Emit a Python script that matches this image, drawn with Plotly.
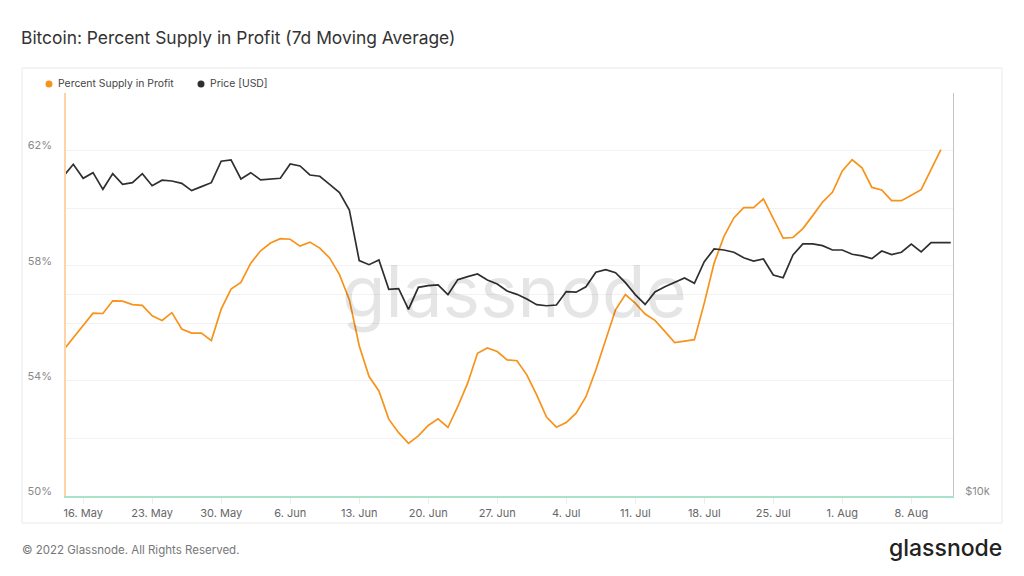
import pandas as pd
import plotly.graph_objects as go

# ---- data ----
dates = pd.date_range("2022-05-14", "2022-08-12", freq="D")

supply_in_profit = [
    55.07, 55.49, 55.89, 56.35, 56.34, 56.78, 56.77, 56.65, 56.62, 56.26,
    56.10, 56.37, 55.80, 55.66, 55.66, 55.40, 56.49, 57.19, 57.42, 58.09,
    58.52, 58.79, 58.94, 58.92, 58.68, 58.82, 58.61, 58.27, 57.69, 56.82,
    55.22, 54.15, 53.65, 52.67, 52.20, 51.83, 52.09, 52.45, 52.68, 52.38,
    53.11, 53.92, 54.96, 55.14, 55.02, 54.73, 54.70, 54.21, 53.51, 52.74,
    52.39, 52.55, 52.88, 53.45, 54.38, 55.43, 56.47, 57.00, 56.70, 56.32,
    56.10, 55.72, 55.33, 55.38, 55.43, 56.70, 58.09, 59.02, 59.66, 60.02,
    60.02, 60.32, 59.63, 58.96, 58.98, 59.29, 59.74, 60.21, 60.55, 61.29,
    61.68, 61.40, 60.72, 60.63, 60.26, 60.26, 60.45, 60.64, 61.34, 62.03,
]

price_usd = [
    30040, 31300, 29830, 30410, 28720, 30310, 29220, 29380, 30310, 29080,
    29630, 29550, 29320, 28590, 28990, 29380, 31630, 31770, 29760, 30410,
    29660, 29760, 29830, 31330, 31120, 30170, 30040, 29220, 28390, 26750,
    22480, 22160, 22520, 20360, 20400, 19000, 20500, 20620, 20670, 19990,
    21050, 21270, 21460, 21020, 20740, 20240, 20010, 19690, 19310, 19240,
    19290, 20200, 20160, 20540, 21590, 21780, 21560, 20830, 19990, 19330,
    20180, 20540, 20830, 21170, 20790, 22390, 23390, 23310, 23130, 22700,
    22440, 22600, 21390, 21190, 22920, 23800, 23800, 23660, 23310, 23310,
    22970, 22840, 22630, 23230, 22940, 23130, 23780, 23150, 23900, 23930,
    23900,
]

pct_tickvals = [50, 52, 54, 56, 58, 60, 62, 64]
pct_ticktext = ["50%", "", "54%", "", "58%", "", "62%", ""]
price_tickvals = [10000, 20000]
price_ticktext = ["$10k", ""]

ORANGE = "#f7931a"
DARK = "#2f2f2f"
FONT = "Inter"

fig = go.Figure()
fig.add_trace(go.Scatter(
    x=dates[:len(supply_in_profit)], y=supply_in_profit, mode="lines",
    name="Percent Supply in Profit", line=dict(color=ORANGE, width=1.7),
    yaxis="y", showlegend=False))
fig.add_trace(go.Scatter(
    x=dates[:len(price_usd)], y=price_usd, mode="lines",
    name="Price [USD]", line=dict(color=DARK, width=1.7),
    yaxis="y2", showlegend=False))

L, R, T, B = 66, 71, 93, 80
PW, PH = 1024 - L - R, 576 - T - B


def px(x):
    return (x - L) / PW


def py(y):
    return (576 - B - y) / PH


fig.update_layout(
    width=1024, height=576,
    margin=dict(l=L, r=R, t=T, b=B),
    paper_bgcolor="white", plot_bgcolor="white",
    font=dict(family=FONT, color="#666"),
    title=dict(text="Bitcoin: Percent Supply in Profit (7d Moving Average)",
               x=21 / 1024, xanchor="left", y=1 - 38 / 576, yanchor="middle",
               font=dict(family=FONT, size=17.4, color="#333")),
    xaxis=dict(
        type="date",
        range=["2022-05-14 06:14", "2022-08-12 05:30"],
        tick0="2022-05-16", dtick=7 * 24 * 3600 * 1000,
        tickformat="%-d. %b",
        showgrid=False, zeroline=False,
        showline=True, linecolor="#a9e2c8", linewidth=1.5,
        ticks="outside", ticklen=6, tickcolor="#ececec",
        tickfont=dict(size=11, color="#666"),
    ),
    yaxis=dict(
        range=[50, 64], tickvals=pct_tickvals, ticktext=pct_ticktext,
        showgrid=True, gridcolor="#f2f2f2", gridwidth=1, zeroline=False,
        showline=True, linecolor="#fcd4a6", linewidth=1.5,
        ticks="", ticklabelstandoff=10, ticklabelshift=-5,
        tickfont=dict(size=11, color="#8a8a8a"),
    ),
    yaxis2=dict(
        type="log", range=[4, 4.60206], overlaying="y", side="right",
        tickvals=price_tickvals, ticktext=price_ticktext,
        showgrid=True, gridcolor="#f2f2f2", zeroline=False,
        showline=True, linecolor="#c4c4c4", linewidth=1,
        ticks="", ticklabelstandoff=9, ticklabelshift=-5,
        tickfont=dict(size=11, color="#8a8a8a"),
    ),
    shapes=[
        dict(type="rect", xref="paper", yref="paper",
             x0=px(22), x1=px(1002), y0=py(523), y1=py(68),
             line=dict(color="#e9e9e9", width=1), fillcolor="rgba(0,0,0,0)",
             layer="below"),
        dict(type="circle", xref="paper", yref="paper",
             x0=px(45.5), x1=px(52.5), y0=py(87.5), y1=py(80.5),
             line=dict(width=0), fillcolor=ORANGE),
        dict(type="circle", xref="paper", yref="paper",
             x0=px(197.5), x1=px(204.5), y0=py(87.5), y1=py(80.5),
             line=dict(width=0), fillcolor=DARK),
    ],
    annotations=[
        dict(text="glassnode", xref="paper", yref="paper",
             x=px(514), y=py(291), xanchor="center", yanchor="middle",
             showarrow=False,
             font=dict(family=FONT, size=71, color="rgba(0,0,0,0.1)")),
        dict(text="Percent Supply in Profit", xref="paper", yref="paper",
             x=px(56), y=py(84), xanchor="left", yanchor="middle",
             showarrow=False, font=dict(family=FONT, size=10.4, color="#444")),
        dict(text="Price [USD]", xref="paper", yref="paper",
             x=px(208), y=py(84), xanchor="left", yanchor="middle",
             showarrow=False, font=dict(family=FONT, size=10.4, color="#444")),
        dict(text="© 2022 Glassnode. All Rights Reserved.", xref="paper",
             yref="paper", x=px(20), y=py(550), xanchor="left",
             yanchor="middle", showarrow=False,
             font=dict(family=FONT, size=11.5, color="#777")),
        dict(text="glassnode", xref="paper", yref="paper",
             x=px(1004), y=py(548), xanchor="right", yanchor="middle",
             showarrow=False,
             font=dict(family=FONT, size=23, color="#222", weight=500)),
    ],
)

fig.write_html("out.html",
               config={"displayModeBar": False},
               post_script="document.body.style.margin='0';")
